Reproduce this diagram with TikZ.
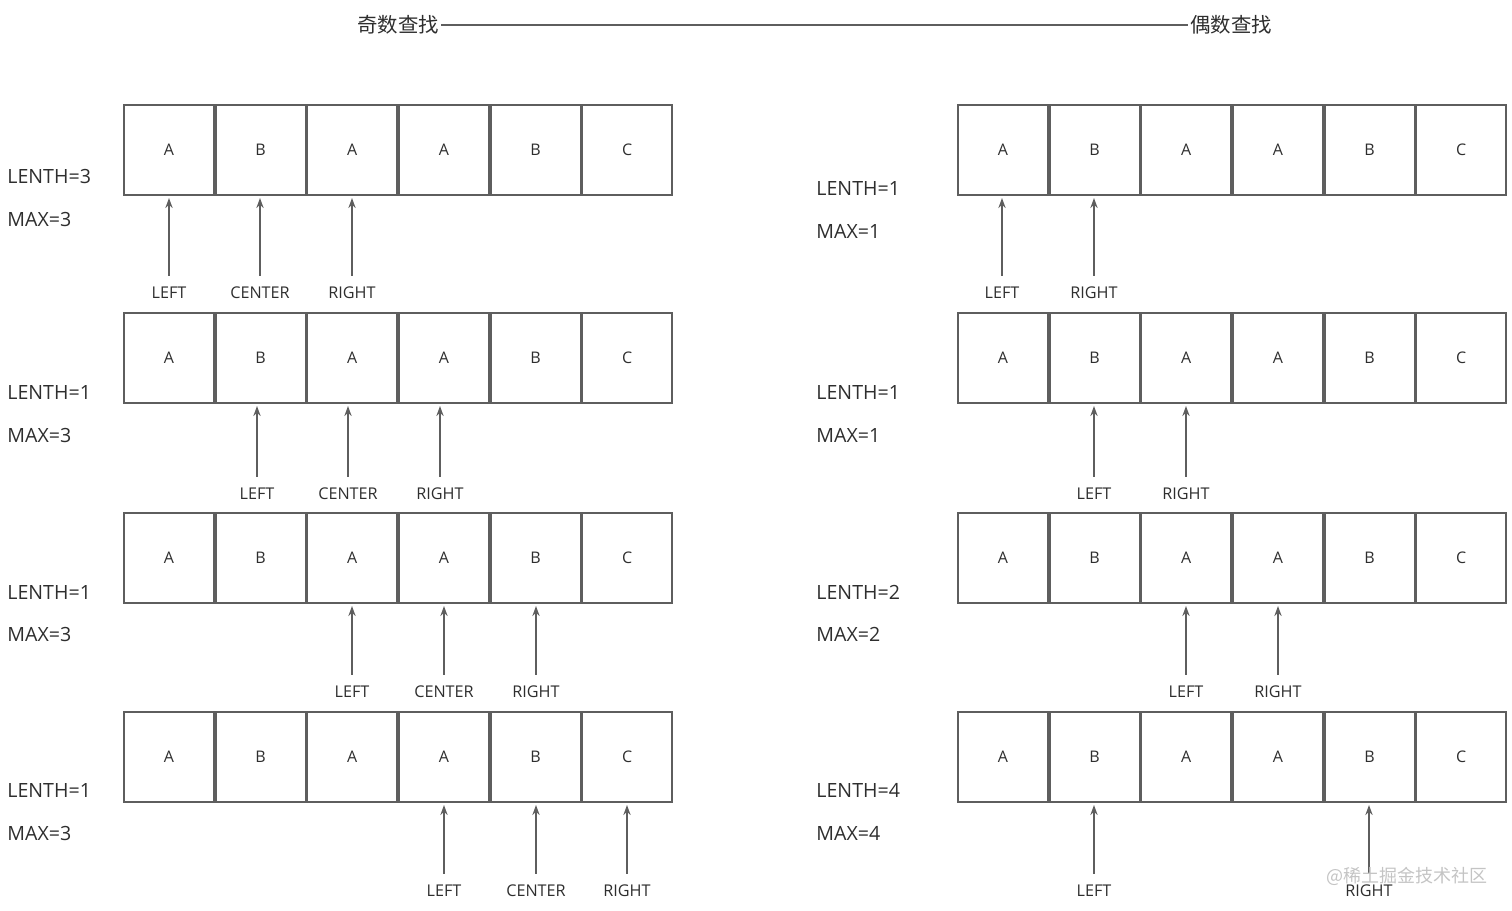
\documentclass[tikz,border=0pt]{standalone}
\usepackage{fontspec}
\setmainfont{Open Sans}
\newfontfamily\cjk{Noto Sans CJK SC}
\usetikzlibrary{arrows.meta}
\definecolor{boxgray}{HTML}{5E5E5E}
\definecolor{txt}{HTML}{2E2E2E}
\definecolor{wm}{HTML}{C4C4C4}
\begin{document}
\begin{tikzpicture}[x=0.5pt,y=-0.5pt,
  cell/.style={draw=boxgray,line width=1pt,minimum width=45pt,minimum height=45pt,inner sep=0pt,text=txt,font=\fontsize{8}{9}\selectfont},
  lbl/.style={inner xsep=0pt,inner ysep=5.5pt,text=txt,font=\fontsize{8.1}{9}\selectfont},
  info/.style={anchor=west,inner sep=0pt,text=txt,font=\fontsize{9.8}{11}\selectfont},
  arr/.style={draw=boxgray,line width=0.9pt,-{Stealth[length=5pt,width=3.6pt]},shorten >=1pt},
  ttl/.style={inner xsep=1pt,inner ysep=0pt,text=txt,font=\cjk\fontsize{10.2}{12}\selectfont}]
\useasboundingbox (0,0) rectangle (1512,911);
% title
\node[ttl] (odd) at (398,25) {奇数查找};
\node[ttl] (even) at (1231,25) {偶数查找};
\draw[boxgray,line width=0.8pt] (odd.east) -- (even.west);
% cells
\foreach \r/\y in {1/150,2/358,3/558,4/757}{
  \foreach \t [count=\i] in {A,B,A,A,B,C}{
    \node[cell] (L\r c\i) at ({123+91.67*(\i-0.5)},\y) {\t};
    \node[cell] (R\r c\i) at ({957+91.67*(\i-0.5)},\y) {\t};
  }
}
% left info
\node[info] (la1) at (7,176) {LENTH=3};
\node[info] (lb1) at (7,219) {MAX=3};
\node[info] (la2) at (7,392) {LENTH=1};
\node[info] (lb2) at (7,435) {MAX=3};
\node[info] (la3) at (7,592) {LENTH=1};
\node[info] (lb3) at (7,634) {MAX=3};
\node[info] (la4) at (7,790) {LENTH=1};
\node[info] (lb4) at (7,833) {MAX=3};
% right info
\node[info] (ra1) at (816,188) {LENTH=1};
\node[info] (rb1) at (816,231) {MAX=1};
\node[info] (ra2) at (816,392) {LENTH=1};
\node[info] (rb2) at (816,435) {MAX=1};
\node[info] (ra3) at (816,592) {LENTH=2};
\node[info] (rb3) at (816,634) {MAX=2};
\node[info] (ra4) at (816,790) {LENTH=4};
\node[info] (rb4) at (816,833) {MAX=4};
% left pointers
\node[lbl] (L1p1) at (169,293) {LEFT};
\node[lbl] (L1p2) at (260,293) {CENTER};
\node[lbl] (L1p3) at (352,293) {RIGHT};
\draw[arr] (L1p1.north) -- (L1p1.north |- L1c1.south);
\draw[arr] (L1p2.north) -- (L1p2.north |- L1c2.south);
\draw[arr] (L1p3.north) -- (L1p3.north |- L1c3.south);
\node[lbl] (L2p1) at (257,494) {LEFT};
\node[lbl] (L2p2) at (348,494) {CENTER};
\node[lbl] (L2p3) at (440,494) {RIGHT};
\draw[arr] (L2p1.north) -- (L2p1.north |- L2c2.south);
\draw[arr] (L2p2.north) -- (L2p2.north |- L2c3.south);
\draw[arr] (L2p3.north) -- (L2p3.north |- L2c4.south);
\node[lbl] (L3p1) at (352,692) {LEFT};
\node[lbl] (L3p2) at (444,692) {CENTER};
\node[lbl] (L3p3) at (536,692) {RIGHT};
\draw[arr] (L3p1.north) -- (L3p1.north |- L3c3.south);
\draw[arr] (L3p2.north) -- (L3p2.north |- L3c4.south);
\draw[arr] (L3p3.north) -- (L3p3.north |- L3c5.south);
\node[lbl] (L4p1) at (444,891) {LEFT};
\node[lbl] (L4p2) at (536,891) {CENTER};
\node[lbl] (L4p3) at (627,891) {RIGHT};
\draw[arr] (L4p1.north) -- (L4p1.north |- L4c4.south);
\draw[arr] (L4p2.north) -- (L4p2.north |- L4c5.south);
\draw[arr] (L4p3.north) -- (L4p3.north |- L4c6.south);
% right pointers
\node[lbl] (R1p1) at (1002,293) {LEFT};
\node[lbl] (R1p2) at (1094,293) {RIGHT};
\draw[arr] (R1p1.north) -- (R1p1.north |- R1c1.south);
\draw[arr] (R1p2.north) -- (R1p2.north |- R1c2.south);
\node[lbl] (R2p1) at (1094,494) {LEFT};
\node[lbl] (R2p2) at (1186,494) {RIGHT};
\draw[arr] (R2p1.north) -- (R2p1.north |- R2c2.south);
\draw[arr] (R2p2.north) -- (R2p2.north |- R2c3.south);
\node[lbl] (R3p1) at (1186,692) {LEFT};
\node[lbl] (R3p2) at (1278,692) {RIGHT};
\draw[arr] (R3p1.north) -- (R3p1.north |- R3c3.south);
\draw[arr] (R3p2.north) -- (R3p2.north |- R3c4.south);
\node[lbl] (R4p1) at (1094,891) {LEFT};
\node[lbl] (R4p2) at (1369,891) {RIGHT};
\draw[arr] (R4p1.north) -- (R4p1.north |- R4c2.south);
\draw[arr] (R4p2.north) -- (R4p2.north |- R4c5.south);
% watermark
\node[inner sep=0pt,text=wm,font=\cjk\fontsize{9}{11}\selectfont] (wmk) at (1407,876) {@稀土掘金技术社区};
\end{tikzpicture}
\end{document}
